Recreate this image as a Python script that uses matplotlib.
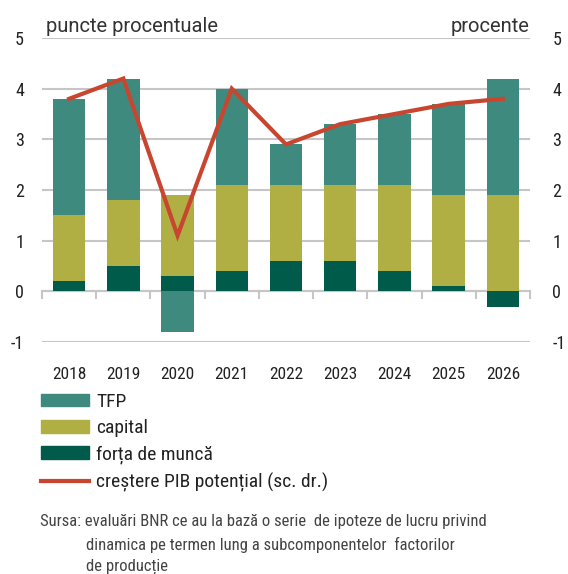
#%%
import matplotlib
matplotlib.use("Agg")
import matplotlib.pyplot as plt
from matplotlib.patches import Patch
from matplotlib.lines import Line2D
from matplotlib import font_manager

names = {f.name for f in font_manager.fontManager.ttflist}
fams = [f for f in ['Roboto Condensed', 'Liberation Sans Narrow', 'Lato', 'Liberation Sans']
        if f in names]
plt.rcParams['font.family'] = fams + ['DejaVu Sans']
plt.rcParams['axes.unicode_minus'] = False
wide = [f for f in ['Roboto', 'Lato'] if f in names] + ['DejaVu Sans']

#%% data
years = ['2018', '2019', '2020', '2021', '2022', '2023', '2024', '2025', '2026']
labor = [0.2, 0.5, 0.3, 0.4, 0.6, 0.6, 0.4, 0.1, -0.3]
capital = [1.3, 1.3, 1.6, 1.7, 1.5, 1.5, 1.7, 1.8, 1.9]
tfp = [2.3, 2.4, -0.8, 1.9, 0.8, 1.2, 1.4, 1.8, 2.3]
gdp = [3.8, 4.2, 1.1, 4.0, 2.9, 3.3, 3.5, 3.7, 3.8]
yticks = [-1, 0, 1, 2, 3, 4, 5]

c_tfp = '#3F8A7E'
c_cap = '#B0AF44'
c_lab = '#005B4A'
c_line = '#C8462F'
c_grid = '#C6C6C6'

#%% figure
fig = plt.figure(figsize=(5.68, 5.74), dpi=100)
ax = fig.add_axes([42/568, 1-342/574, 488/568, 304/574])
x = list(range(len(years)))

# stacking: positives upward, negatives downward
pos = [0.0]*len(x)
neg = [0.0]*len(x)
for vals, col in [(labor, c_lab), (capital, c_cap), (tfp, c_tfp)]:
    bottoms = []
    for i, v in enumerate(vals):
        if v >= 0:
            bottoms.append(pos[i]); pos[i] += v
        else:
            bottoms.append(neg[i]); neg[i] += v
    ax.bar(x, vals, bottom=bottoms, width=0.6, color=col, zorder=2)

ax.set_xlim(-0.5, len(years)-0.5)
ax.set_ylim(-1, 5)
ax.set_yticks(yticks)
ax.yaxis.grid(True, color=c_grid, lw=1.5)
ax.set_axisbelow(True)
for s in ['top', 'right', 'left']:
    ax.spines[s].set_visible(False)
ax.spines['bottom'].set_position(('data', 0))
ax.spines['bottom'].set_color(c_grid)
ax.spines['bottom'].set_linewidth(1.5)
ax.spines['bottom'].set_zorder(1)
ax.set_xticks([i-0.5 for i in range(len(years)+1)])
ax.tick_params(axis='x', length=6, width=1.5, color=c_grid, labelbottom=False)
ax.tick_params(axis='y', length=0, pad=13, labelsize=13, labelcolor='#222222')

secax = ax.secondary_xaxis('bottom')
secax.set_xticks(x)
secax.set_xticklabels(years)
secax.tick_params(length=0, pad=18, labelsize=12.5, labelcolor='#222222')
secax.spines['bottom'].set_visible(False)

ax2 = ax.twinx()
ax2.plot(x, gdp, color=c_line, lw=3, solid_joinstyle='miter', zorder=3)
ax2.set_ylim(-1, 5)
ax2.set_yticks(yticks)
for s in ax2.spines.values():
    s.set_visible(False)
ax2.tick_params(axis='y', length=0, pad=16, labelsize=13, labelcolor='#222222')

ax.text(0.008, 1.005, 'puncte procentuale', transform=ax.transAxes, ha='left', va='bottom',
        fontsize=14.5, color='#333333', family=wide)
ax.text(1.0, 1.005, 'procente', transform=ax.transAxes, ha='right', va='bottom',
        fontsize=14.5, color='#333333', family=wide)

#%% legend
handles = [Patch(color=c_tfp), Patch(color=c_cap), Patch(color=c_lab),
           Line2D([], [], color=c_line, lw=3)]
labels = ['TFP', 'capital', 'forța de muncă', 'creștere PIB potențial (sc. dr.)']
fig.legend(handles, labels, loc='upper left', bbox_to_anchor=(41/568, 1-393/574),
           frameon=False, borderpad=0, borderaxespad=0, fontsize=14,
           handlelength=2.45, handleheight=0.62, handletextpad=0.4, labelspacing=0.42,
           labelcolor='#222222')

src = ['Sursa: evaluări BNR ce au la bază o serie  de ipoteze de lucru privind',
       'dinamica pe termen lung a subcomponentelor  factorilor',
       'de producție']
fig.text(40/568, 1-514/574, src[0], ha='left', va='top', fontsize=12, color='#444444')
fig.text(86/568, 1-537/574, src[1], ha='left', va='top', fontsize=12, color='#444444')
fig.text(86/568, 1-559/574, src[2], ha='left', va='top', fontsize=12, color='#444444')

plt.savefig('out.png', dpi=100)
